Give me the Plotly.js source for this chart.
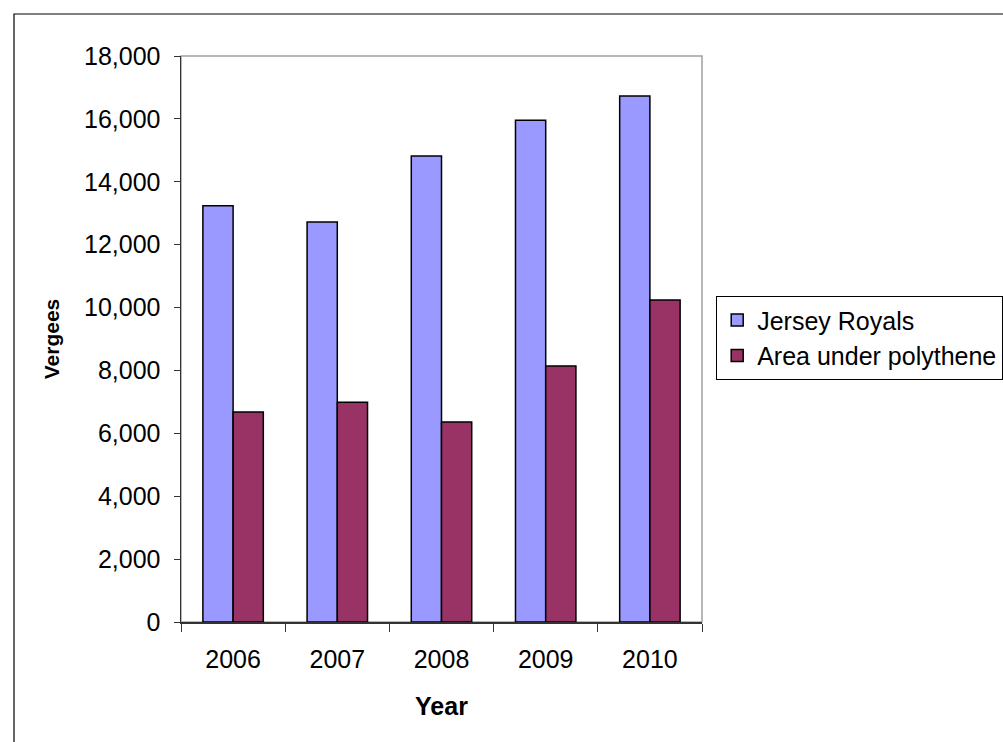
<!DOCTYPE html>
<html>
<head>
<meta charset="utf-8">
<script src="https://cdn.plot.ly/plotly-3.0.1.min.js"></script>
<style>
html,body{margin:0;padding:0;background:#fff;}
#chart{width:1003px;height:742px;}
</style>
</head>
<body>
<div id="chart"></div>
<script>
const years = ["2006", "2007", "2008", "2009", "2010"];
const jerseyRoyals = [13240, 12720, 14820, 15960, 16730];
const areaUnderPolythene = [6680, 6990, 6360, 8140, 10240];
const seriesNames = ["Jersey Royals", "Area under polythene"];

const L = 181, R = 702, T = 56, B = 622, W = 1003, H = 742;
const pw = R - L, ph = B - T;
const px = x => (x - L) / pw;
const py = y => (B - y) / ph;

const traces = [
  {type: "bar", name: seriesNames[0], x: years, y: jerseyRoyals, legendgroup: "a",
   marker: {color: "#9999ff", line: {color: "#000", width: 1.5}}},
  {type: "bar", name: seriesNames[1], x: years, y: areaUnderPolythene, legendgroup: "b",
   marker: {color: "#993366", line: {color: "#000", width: 1.5}}}
];

const font = "Liberation Sans, Arial, sans-serif";
const layout = {
  width: W, height: H,
  margin: {l: L, r: W - R, t: T, b: H - B, autoexpand: false},
  paper_bgcolor: "#fff", plot_bgcolor: "#fff",
  barmode: "group", bargap: 0.42, bargroupgap: 0,
  showlegend: true,
  font: {family: font, color: "#000", size: 25},
  xaxis: {
    type: "category", tickson: "boundaries", ticks: "outside", ticklen: 8,
    tickcolor: "#333", showline: true, linecolor: "#333", linewidth: 1.5,
    showgrid: false, tickfont: {size: 25}, ticklabelstandoff: 14,
    title: {text: "Year", font: {size: 25, family: font, weight: "bold"}, standoff: 26}
  },
  yaxis: {
    range: [0, 18000], dtick: 2000, tickformat: ",d", ticks: "outside", ticklen: 6,
    tickcolor: "#333", showline: true, linecolor: "#333", linewidth: 1.5,
    showgrid: false, zeroline: false, tickfont: {size: 25}, ticklabelstandoff: 8,
    title: {text: "Vergees", font: {size: 21, family: font, weight: "bold"}, standoff: 18}
  },
  legend: {
    x: px(716), y: py(296), xanchor: "left", yanchor: "top",
    bgcolor: "#fff", bordercolor: "#000", borderwidth: 1.2,
    font: {size: 25, family: font}, traceorder: "normal", itemwidth: 30,
    tracegroupgap: 8
  },
  shapes: [
    {type: "rect", xref: "paper", yref: "paper", x0: 0, x1: 1, y0: 0, y1: 1,
     line: {color: "#a0a0a0", width: 1.5}, layer: "below"},
    {type: "rect", xref: "paper", yref: "paper", x0: px(14), x1: px(1010), y0: py(14), y1: py(750),
     line: {color: "#000", width: 1.2}, layer: "below"}
  ]
};

Plotly.newPlot("chart", traces, layout, {displayModeBar: false, staticPlot: true});
</script>
</body>
</html>
